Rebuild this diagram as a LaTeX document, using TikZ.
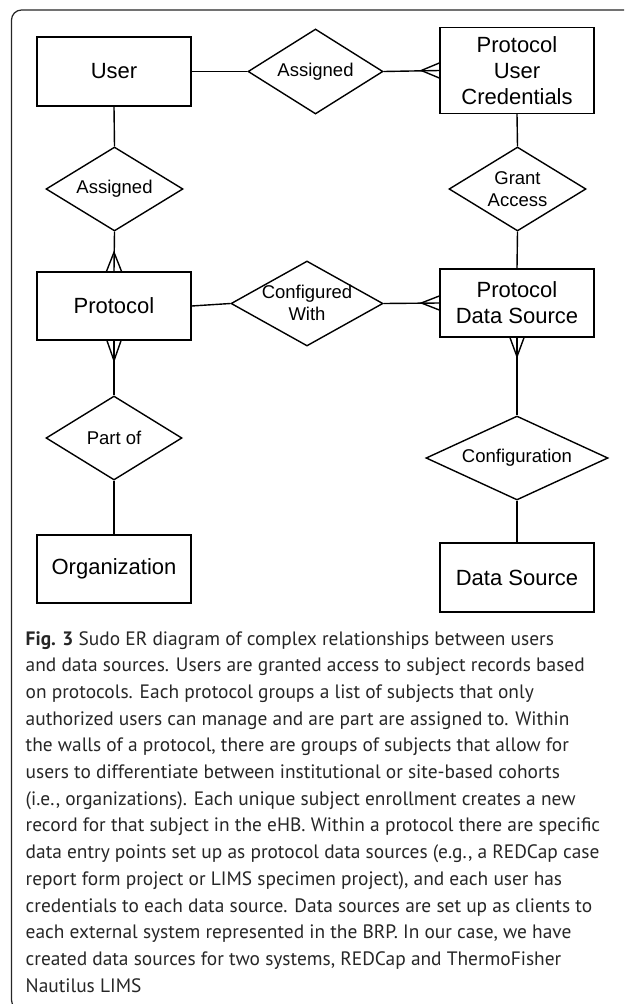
\documentclass[tikz,border=0pt]{standalone}
\usepackage{fontspec}
\setmainfont{Liberation Sans}
\newfontfamily\capfont{PT Sans}
\usetikzlibrary{shapes.geometric,calc}

% crow's foot at an entity end: anchor, offset of the apex, half spread
\newcommand{\crowfoot}[3]{%
  \draw[conn] ($(#1)+(#3)$) -- ($(#1)+(#2)$) -- ($(#1)-(#3)$);}

\begin{document}
\begin{tikzpicture}[x=1pt,y=-1pt,
  conn/.style={line width=1.4pt, line join=miter},
  entity/.style={draw, line width=1.4pt, minimum width=154pt, inner sep=0pt,
    align=center, font=\fontsize{22}{26}\selectfont},
  rel/.style={draw, diamond, line width=1.4pt, inner sep=0pt},
  rellabel/.style={align=center, inner sep=0pt, font=\fontsize{18.5}{22}\selectfont},
]
\useasboundingbox (0,0) rectangle (624,1004);
\begin{scope}
  \clip (0,0) rectangle (624,1004);
  \draw[line width=1.2pt, rounded corners=10pt, draw=black!85] (11.5,10) rectangle (660,1010);
\end{scope}

% entities
\node[entity, minimum height=69pt] (user) at (114,71.5) {User};
\node[entity, minimum height=86pt] (puc)  at (517,70.5) {Protocol\\User\\Credentials};
\node[entity, minimum height=68pt] (prot) at (114,306) {Protocol};
\node[entity, minimum height=68pt] (pds)  at (517,303) {Protocol\\Data Source};
\node[entity, minimum height=68pt] (org)  at (114,569) {Organization};
\node[entity, minimum height=69pt] (ds)   at (517,577.5) {Data Source};

% relationships
\node[rel, minimum width=135pt, minimum height=85pt] (asg1) at (315.5,71.5) {};
\node[rellabel] (asg1l) at (asg1) {Assigned};
\node[rel, minimum width=137pt, minimum height=84pt] (grant) at (517.5,189) {};
\node[rellabel] (grantl) at (grant) {Grant\\Access};
\node[rel, minimum width=137pt, minimum height=84pt] (asg2) at (114.5,189) {};
\node[rellabel] (asg2l) at (asg2) {Assigned};
\node[rel, minimum width=152pt, minimum height=85pt] (cfgw) at (307,303.5) {};
\node[rellabel] (cfgwl) at (307,302.5) {Configured\\With};
\node[rel, minimum width=136pt, minimum height=84pt] (part) at (114,438) {};
\node[rellabel] (partl) at (part) {Part of};
\node[rel, minimum width=182pt, minimum height=84pt] (cfg) at (517,458) {};
\node[rellabel] (cfgl) at (cfg) {Configuration};

% connectors
\draw[conn] (user.east) -- (asg1.west);
\draw[conn] (asg1.east) -- (puc.west);
\crowfoot{puc.west}{-18,0}{0,7.5}
\draw[conn] (puc.south) -- (grant.north);
\draw[conn] (grant.south) -- (pds.north);
\draw[conn] (user.south) -- (asg2.north);
\draw[conn] (asg2.south) -- (prot.north);
\crowfoot{prot.north}{0,-19}{7.5,0}
\draw[conn] (prot.east) -- (cfgw.west);
\draw[conn] (cfgw.east) -- (pds.west);
\crowfoot{pds.west}{-18,0}{0,7}
\draw[conn] (prot.south) -- (part.north);
\crowfoot{prot.south}{0,20}{7,0}
\draw[conn] (part.south) -- (org.north);
\draw[conn] (pds.south) -- (cfg.north);
\crowfoot{pds.south}{0,19}{7,0}
\draw[conn] (cfg.south) -- (ds.north);

% caption
\node[anchor=base west, inner sep=0pt, text=black!85] (caption) at (25.5,645)
  {\parbox[t]{598pt}{\raggedright\capfont\fontsize{19.4}{26.7}\selectfont
  \textbf{Fig. 3} Sudo ER diagram of complex relationships between users\\
  and data sources. Users are granted access to subject records based\\
  on protocols. Each protocol groups a list of subjects that only\\
  authorized users can manage and are part are assigned to. Within\\
  the walls of a protocol, there are groups of subjects that allow for\\
  users to differentiate between institutional or site-based cohorts\\
  (i.e., organizations). Each unique subject enrollment creates a new\\
  record for that subject in the eHB. Within a protocol there are specific\\
  data entry points set up as protocol data sources (e.g., a REDCap case\\
  report form project or LIMS specimen project), and each user has\\
  credentials to each data source. Data sources are set up as clients to\\
  each external system represented in the BRP. In our case, we have\\
  created data sources for two systems, REDCap and ThermoFisher\\
  Nautilus LIMS}};
\end{tikzpicture}
\end{document}
